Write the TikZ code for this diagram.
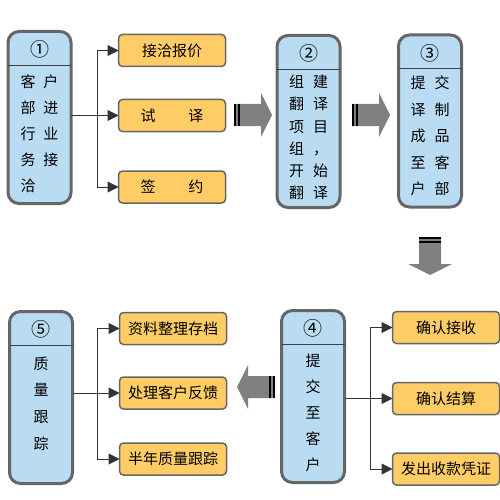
\documentclass[tikz,border=0pt]{standalone}
\usepackage{fontspec}
\newfontfamily\cjk{Noto Sans CJK SC}
\usetikzlibrary{arrows.meta}
\definecolor{stageblue}{RGB}{186,220,242}
\definecolor{taskorange}{RGB}{255,204,102}
\definecolor{boxgray}{RGB}{102,102,102}
\definecolor{arrowgray}{RGB}{128,128,128}

\begin{document}
\begin{tikzpicture}[x=1pt, y=-1pt, font=\cjk\fontsize{15}{18}\selectfont,
			stage/.style={draw=boxgray, line width=3pt, fill=stageblue, rounded corners=11pt, outer sep=0pt, minimum width=63pt, minimum height=172pt, inner sep=0pt},
			task/.style={draw=boxgray, line width=1.5pt, fill=taskorange, rounded corners=4pt, outer sep=0pt, minimum width=107pt, minimum height=32pt, inner sep=0pt},
			num/.style={font=\cjk\fontsize{19}{19}\selectfont, inner sep=0pt},
			body/.style={align=left, inner sep=0pt, font=\cjk\fontsize{15}{26}\selectfont},
			head/.style={draw=black!75, line width=1pt},
			link/.style={draw=black!80, line width=1pt},
			tip/.style={link, -{Triangle[length=11pt,width=11pt]}},
			blockarrow/.pic={
				\fill[arrowgray] (0,-11) -- (27,-11) -- (27,-22) -- (38,0) -- (27,22) -- (27,11) -- (0,11) -- cycle;
				\fill[black] (0,-11) rectangle (2,11);
				\fill[black] (4,-11) rectangle (6,11);
			}]
			\useasboundingbox (0,0) rectangle (500,500);

			\node[stage] (s1) at (39.5,117.5) {};
			\node[stage] (s2) at (308.5,121.5) {};
			\node[stage] (s3) at (430,121) {};
			\node[stage] (s4) at (313,396.5) {};
			\node[stage] (s5) at (41,397.5) {};
			\foreach \s/\n in {s1/①,s2/②,s3/③,s4/④,s5/⑤} {
				\draw[head] ([yshift=-34pt]\s.north west) -- ([yshift=-34pt]\s.north east);
				\node[num] (\s num) at ([yshift=-18pt]\s.north) {\n};
			}

			\node[body] (s1txt) at ([yshift=-16pt]s1.center) {客\hspace{8pt}户\\部\hspace{8pt}进\\行\hspace{8pt}业\\务\hspace{8pt}接\\洽};
			\node[body, font=\cjk\fontsize{15}{22.2}\selectfont] (s2txt) at ([yshift=-16pt]s2.center) {组\hspace{9pt}建\\翻\hspace{9pt}译\\项\hspace{9pt}目\\组\hspace{9pt}，\\开\hspace{9pt}始\\翻\hspace{9pt}译};
			\node[body, font=\cjk\fontsize{15}{26.5}\selectfont] (s3txt) at ([yshift=-15pt]s3.center) {提\hspace{9pt}交\\译\hspace{9pt}制\\成\hspace{9pt}品\\至\hspace{9pt}客\\户\hspace{9pt}部};
			\node[body, align=center] (s4txt) at ([yshift=-16pt]s4.center) {提\\交\\至\\客\\户};
			\node[body, align=center, font=\cjk\fontsize{15}{26.7}\selectfont] (s5txt) at ([yshift=-6pt]s5.center) {质\\量\\跟\\踪};

			\node[task] (t11) at (172,50.5) {接洽报价};
			\node[task] (t12) at (172,115.5) {试\hspace{2.2em}译};
			\node[task] (t13) at (172,187) {签\hspace{2.2em}约};
			\node[task] (t41) at (446,327.5) {确认接收};
			\node[task] (t42) at (446,398.5) {确认结算};
			\node[task] (t43) at (446,469) {发出收款凭证};
			\node[task] (t51) at (173,328.5) {资料整理存档};
			\node[task] (t52) at (173,393) {处理客户反馈};
			\node[task] (t53) at (173,459) {半年质量跟踪};

			\coordinate (f1) at (97,115.5);
			\draw[link] (s1.east |- f1) -- (f1);
			\draw[tip] (f1) |- (t11.west);
			\draw[tip] (f1) -- (t12.west);
			\draw[tip] (f1) |- (t13.west);

			\coordinate (f4) at (370,398.5);
			\draw[link] (s4.east |- f4) -- (f4);
			\draw[tip] (f4) |- (t41.west);
			\draw[tip] (f4) -- (t42.west);
			\draw[tip] (f4) |- (t43.west);

			\coordinate (f5) at (97,393);
			\draw[link] (s5.east |- f5) -- (f5);
			\draw[tip] (f5) |- (t51.west);
			\draw[tip] (f5) -- (t52.west);
			\draw[tip] (f5) |- (t53.west);

			\pic at (234,115) {blockarrow};
			\pic at (352,115) {blockarrow};
			\pic[rotate=-90] at (430,237) {blockarrow};
			\pic[rotate=180] at (275,387) {blockarrow};
			\end{tikzpicture}
\end{document}
